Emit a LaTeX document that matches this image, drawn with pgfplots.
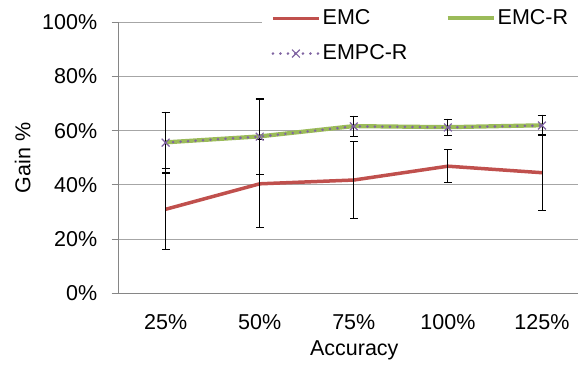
\documentclass[border=0pt]{standalone}
\usepackage{pgfplots}
\pgfplotsset{compat=1.18}
\usepackage{fontspec}
\setmainfont{Liberation Sans}
\definecolor{emc}{HTML}{C0504D}
\definecolor{emcr}{HTML}{9BBB59}
\definecolor{empcr}{HTML}{8064A2}
\definecolor{axgray}{HTML}{868686}
\definecolor{gridgray}{HTML}{A6A6A6}
\begin{document}
\fontsize{21.5}{25}\selectfont
\begin{tikzpicture}
\begin{axis}[
 at={(0,0)}, anchor=south west,
 scale only axis, width=459.4pt, height=271pt,
 xmin=-0.5, xmax=4.383, ymin=0, ymax=100,
 axis x line*=bottom, axis y line*=left,
 axis line style={axgray, line width=1.5pt, -},
 xtick={0,...,4}, xticklabels={25\%,50\%,75\%,100\%,125\%},
 ytick={0,20,...,100}, yticklabels={0\%,20\%,40\%,60\%,80\%,100\%},
 ymajorgrids, grid style={gridgray, line width=1pt},
 x tick style={draw=none},
 y tick style={axgray, line width=1pt},
 tick align=outside, major tick length=7pt,
 ticklabel style={font=\fontsize{21.5}{25}\selectfont},
 xticklabel style={yshift=-7pt},
 yticklabel style={xshift=-7pt},
 /pgf/number format/assume math mode=true,
 xlabel={Accuracy}, ylabel={Gain \%},
 label style={font=\fontsize{21.5}{25}\selectfont},
 xlabel style={at={(axis description cs:0.513,0)}, anchor=north, yshift=-40.5pt},
 ylabel style={at={(axis description cs:0,0.5)}, anchor=center, rotate=0, yshift=95.8pt},
 legend columns=2,
 legend cell align=left,
 legend style={at={(0.3121,1.0823)}, anchor=north west, draw=none, fill=white,
   inner xsep=9pt, inner ysep=7pt, font=\fontsize{21.5}{25}\selectfont,
   nodes={inner sep=2pt},
   /tikz/every even column/.append style={column sep=36pt},
   row sep=13pt},
 legend image code/.code={\draw[mark repeat=2,mark phase=2,#1] plot coordinates {(0pt,0pt) (23pt,0pt) (46pt,0pt)};},
 error bars/error bar style={black, solid, line width=0.9pt},
 error bars/error mark options={black, solid, rotate=90, mark size=4pt, line width=0.9pt},
]
\addplot[emc, line width=3.5pt, no marks, error bars/.cd, y dir=both, y explicit]
 coordinates {(0,31.0)+-(0,15.0) (1,40.4)+-(0,16.2) (2,41.8)+-(0,14.3) (3,46.9)+-(0,6.1) (4,44.5)+-(0,14.1)};
\addlegendentry{EMC}
\addplot[emcr, line width=4.2pt, no marks, error bars/.cd, y dir=both, y explicit]
 coordinates {(0,55.7)+-(0,11.2) (1,57.9)+-(0,13.9) (2,61.7)+-(0,3.7) (3,61.3)+-(0,3.0) (4,62.0)+-(0,3.8)};
\addlegendentry{EMC-R}
\addplot[empcr, line width=2.8pt, line cap=round, dash pattern=on 0pt off 7.5pt,
   mark=x, mark size=5.5pt, mark options={solid, line width=1.2pt, line cap=butt},
   error bars/.cd, y dir=both, y explicit]
 coordinates {(0,55.6)+-(0,11.2) (1,57.8)+-(0,13.9) (2,61.6)+-(0,3.7) (3,61.2)+-(0,3.0) (4,61.9)+-(0,3.8)};
\addlegendentry{EMPC-R}
\end{axis}
\pgfresetboundingbox
\useasboundingbox (-118.6pt,-72.7pt) rectangle (459.4pt,293.3pt);
\end{tikzpicture}
\end{document}
